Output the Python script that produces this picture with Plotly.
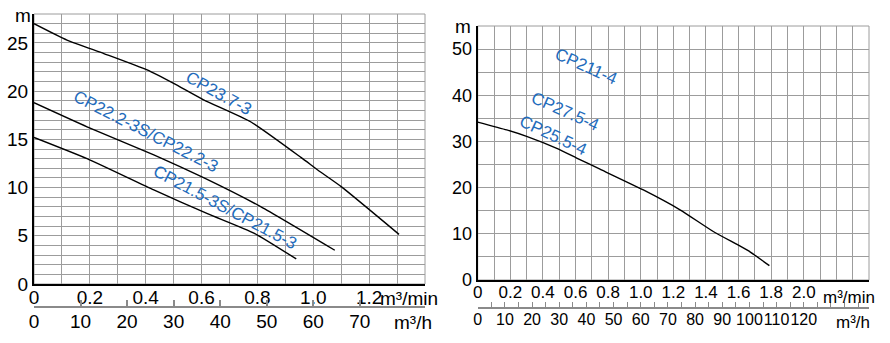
import plotly.graph_objects as go

# ---- pump performance data (flow in m³/min, head in m) ----
cp237_q = [0, 0.118, 0.25, 0.405, 0.5, 0.607, 0.777, 0.957, 1.017, 1.10, 1.307]
cp237_h = [27.0, 25.3, 23.9, 22.2, 20.8, 19.1, 16.8, 13.1, 11.8, 10.1, 5.15]

cp222_q = [0, 0.19, 0.429, 0.609, 0.813, 1.077]
cp222_h = [18.8, 16.3, 13.4, 11.0, 8.0, 3.5]

cp215_q = [0, 0.19, 0.429, 0.621, 0.789, 0.939]
cp215_h = [15.2, 13.0, 9.75, 7.3, 5.26, 2.6]

cp4_q = [0, 0.178, 0.3, 0.485, 0.607, 0.75, 1.016, 1.241, 1.445, 1.67, 1.789]
cp4_h = [34.2, 32.5, 31.1, 28.5, 26.4, 24.0, 19.5, 15.2, 10.5, 6.1, 3.1]

# ---- curve labels: text, flow, head, angle ----
left_labels = ["CP23.7-3", "CP22.2-3S/CP22.2-3", "CP21.5-3S/CP21.5-3"]
left_label_q = [0.662, 0.400, 0.684]
left_label_h = [19.8, 15.8, 7.9]
left_label_ang = [29, 27, 28]

right_labels = ["CP211-4", "CP27.5-4", "CP25.5-4"]
right_label_q = [0.664, 0.536, 0.462]
right_label_h = [46.2, 36.4, 31.2]
right_label_ang = [24, 24, 25]

# ---- axis ticks ----
left_min_ticks = [0, 0.2, 0.4, 0.6, 0.8, 1.0, 1.2]
left_min_text = ["0", "0.2", "0.4", "0.6", "0.8", "1.0", "1.2"]
left_h_ticks = [0, 10, 20, 30, 40, 50, 60, 70]
left_head_ticks = [0, 5, 10, 15, 20, 25]

right_min_ticks = [0, 0.2, 0.4, 0.6, 0.8, 1.0, 1.2, 1.4, 1.6, 1.8, 2.0]
right_min_text = ["0", "0.2", "0.4", "0.6", "0.8", "1.0", "1.2", "1.4", "1.6", "1.8", "2.0"]
right_h_ticks = list(range(0, 145, 5))
right_h_text = [str(v) if (v % 10 == 0 and v <= 120) else "" for v in right_h_ticks]
right_head_ticks = [0, 10, 20, 30, 40, 50]

W, H = 890, 343
BLUE = "#1f6cbc"
GRID = "#9c9c9c"
FONT = "Liberation Sans, Arial, sans-serif"

fig = go.Figure()

for q, h in [(cp237_q, cp237_h), (cp222_q, cp222_h), (cp215_q, cp215_h)]:
    fig.add_trace(go.Scatter(x=q, y=h, mode="lines", xaxis="x", yaxis="y",
                             line=dict(color="black", width=1.4, shape="spline", smoothing=0.5),
                             showlegend=False, hoverinfo="skip"))

fig.add_trace(go.Scatter(x=cp4_q, y=cp4_h, mode="lines", xaxis="x2", yaxis="y2",
                         line=dict(color="black", width=1.4, shape="spline", smoothing=0.5),
                         showlegend=False, hoverinfo="skip"))

# invisible traces so the m³/h axes are rendered
fig.add_trace(go.Scatter(x=[0], y=[0], xaxis="x3", yaxis="y", mode="markers",
                         marker=dict(opacity=0), showlegend=False, hoverinfo="skip"))
fig.add_trace(go.Scatter(x=[0], y=[0], xaxis="x4", yaxis="y2", mode="markers",
                         marker=dict(opacity=0), showlegend=False, hoverinfo="skip"))

# plot-area geometry (paper fractions)
lx0, lx1 = 34 / W, 425 / W
ly0, ly1 = (H - 284) / H, (H - 14) / H
rx0, rx1 = 477.7 / W, 869 / W
ry0, ry1 = (H - 280) / H, (H - 26) / H

common_grid = dict(showgrid=True, gridcolor=GRID, gridwidth=1, zeroline=False,
                   ticks="", showline=True, linecolor="black", linewidth=2,
                   automargin=False, tickangle=0)

fig.update_layout(
    width=W, height=H,
    margin=dict(l=0, r=0, t=0, b=0, autoexpand=False),
    paper_bgcolor="white", plot_bgcolor="white",
    font=dict(family=FONT, color="black", size=18),
    xaxis=dict(domain=[lx0, lx1], range=[0, 1.4], anchor="y",
               tickvals=left_min_ticks, ticktext=left_min_text,
               tickfont=dict(size=19), ticklabelstandoff=-5,
               minor=dict(dtick=0.1, showgrid=True, gridcolor=GRID, gridwidth=1),
               **common_grid),
    yaxis=dict(domain=[ly0, ly1], range=[0, 28], anchor="x",
               tickvals=left_head_ticks, tickfont=dict(size=19),
               minor=dict(dtick=1, showgrid=True, gridcolor=GRID, gridwidth=1),
               **common_grid),
    xaxis2=dict(domain=[rx0, rx1], range=[0, 2.4], anchor="y2",
                tickvals=right_min_ticks, ticktext=right_min_text,
                tickfont=dict(size=17), ticklabelstandoff=-4,
                minor=dict(dtick=0.1, showgrid=True, gridcolor=GRID, gridwidth=1),
                **common_grid),
    yaxis2=dict(domain=[ry0, ry1], range=[0, 55], anchor="x2",
                tickvals=right_head_ticks, tickfont=dict(size=18),
                minor=dict(dtick=5, showgrid=True, gridcolor=GRID, gridwidth=1),
                **common_grid),
    xaxis3=dict(overlaying="x", anchor="free", position=(H - 307) / H, side="bottom",
                range=[0, 84], tickvals=left_h_ticks, showgrid=False, zeroline=False,
                showline=True, linecolor="#8a8a8a", linewidth=1.5,
                ticks="inside", ticklen=6, tickcolor="#8a8a8a", tickwidth=1.5,
                automargin=False, tickangle=0, ticklabelstandoff=-3,
                tickfont=dict(size=19)),
    xaxis4=dict(overlaying="x2", anchor="free", position=(H - 308) / H, side="bottom",
                range=[0, 144], tickvals=right_h_ticks, ticktext=right_h_text,
                showgrid=False, zeroline=False,
                showline=True, linecolor="#8a8a8a", linewidth=1.5,
                ticks="inside", ticklen=5, tickcolor="#8a8a8a", tickwidth=1.2,
                automargin=False, tickangle=0, ticklabelstandoff=-3,
                tickfont=dict(size=16)),
)

# light frame on the top and right of each plot area
for xr, yr in [("x domain", "y domain"), ("x2 domain", "y2 domain")]:
    fig.add_shape(type="rect", xref=xr, yref=yr, x0=0, x1=1, y0=0, y1=1,
                  line=dict(color=GRID, width=1), layer="below")

# curve labels
for t, q, h, a in zip(left_labels, left_label_q, left_label_h, left_label_ang):
    fig.add_annotation(x=q, y=h, xref="x", yref="y", text=t, showarrow=False,
                       textangle=a, font=dict(color=BLUE, size=17))
for t, q, h, a in zip(right_labels, right_label_q, right_label_h, right_label_ang):
    fig.add_annotation(x=q, y=h, xref="x2", yref="y2", text=t, showarrow=False,
                       textangle=a, font=dict(color=BLUE, size=17))

# axis unit labels
units = [
    ("m", 23 / W, (H - 15) / H, 19),
    ("m", 463 / W, (H - 26) / H, 19),
    ("m³/min", 409 / W, (H - 298) / H, 19),
    ("m³/h", 413 / W, (H - 322) / H, 19),
    ("m³/min", 849 / W, (H - 297) / H, 17),
    ("m³/h", 853 / W, (H - 322) / H, 17),
]
for t, x, y, s in units:
    fig.add_annotation(x=x, y=y, xref="paper", yref="paper", text=t, showarrow=False,
                       xanchor="center", yanchor="middle",
                       font=dict(size=s, color="black"))

fig.write_html("out.html")
